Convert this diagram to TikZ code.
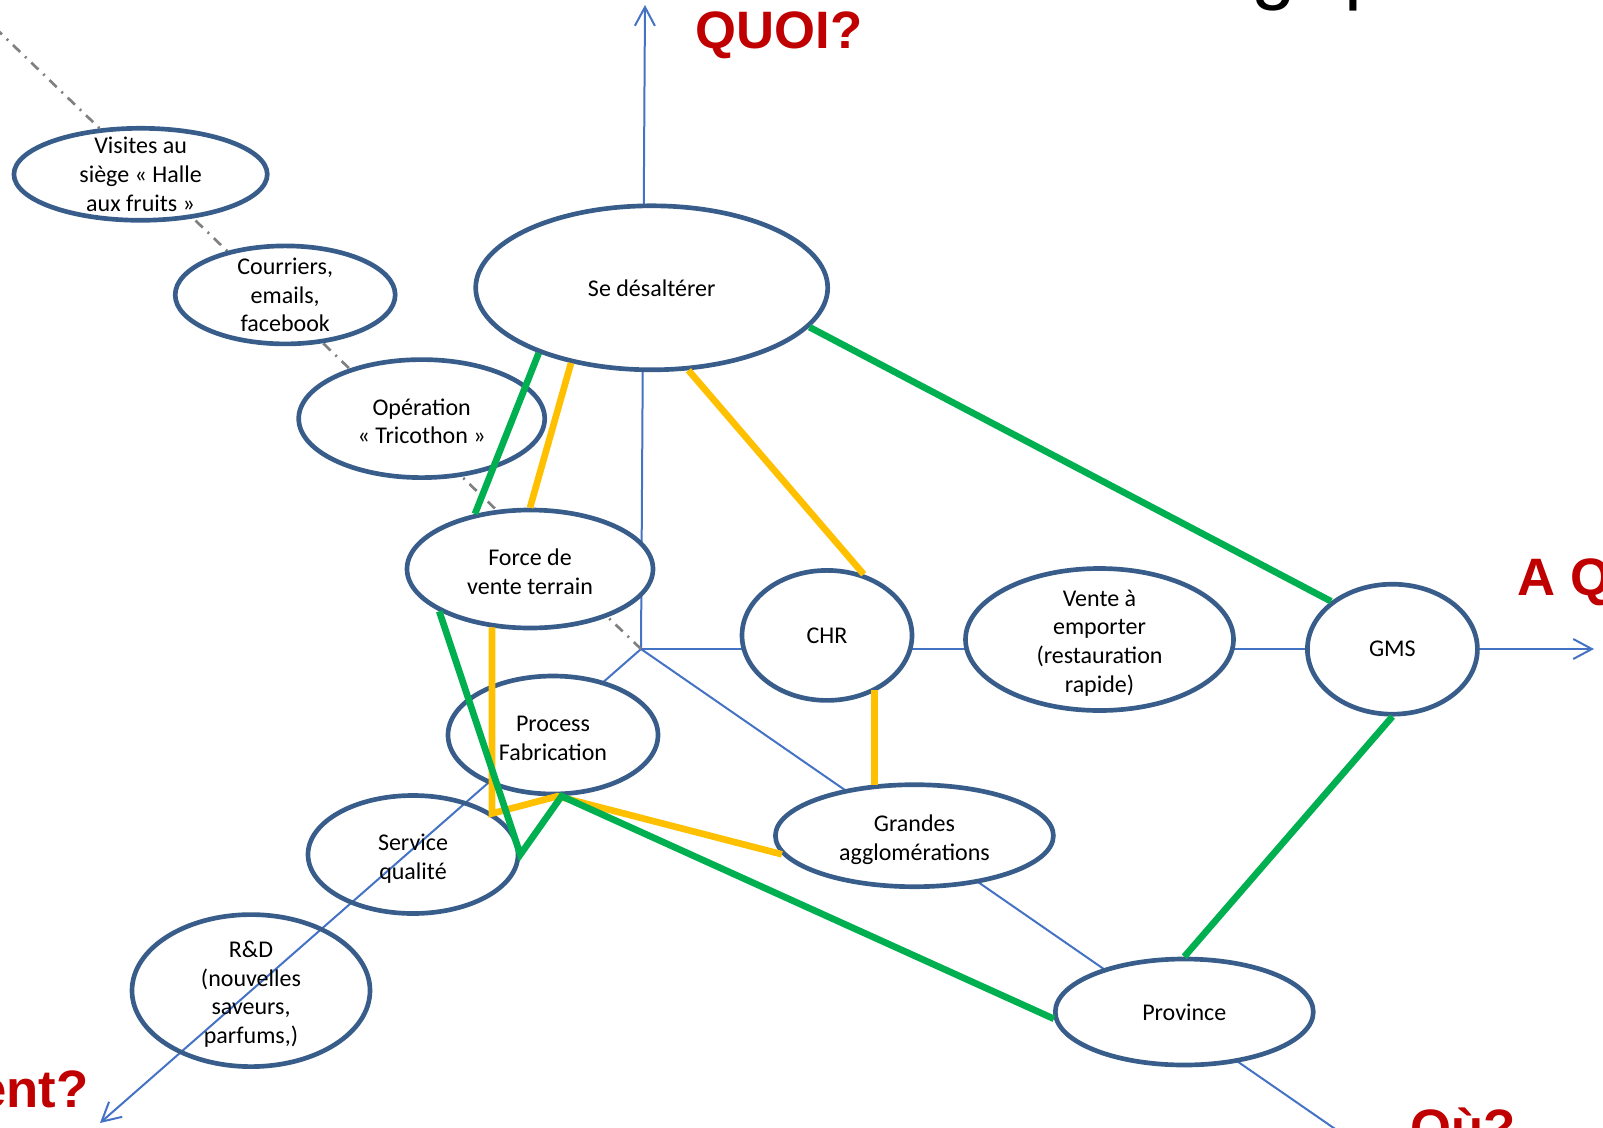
\documentclass[tikz,border=0pt]{standalone}
\usepackage{fontspec}
\setmainfont{Carlito}
\newfontfamily\sansarial{Liberation Sans}
\usetikzlibrary{shapes.geometric,arrows.meta}
\newcommand\ligne[1][16.5pt]{\rule{0pt}{#1}}

\tikzset{every picture/.style={line width=0.75pt}}
\tikzset{
  bulle/.style={ellipse, draw={rgb, 255:red, 56; green, 93; blue, 138 }, line width=3.5pt, fill=white, inner sep=-30pt, align=center, font=\fontsize{18}{21.5}\selectfont},
  axe/.style={draw={rgb, 255:red, 68; green, 114; blue, 196 }, line width=1.5pt},
  fleche/.style={axe, -{Straight Barb[length=14pt,width=15pt]}},
  vert/.style={draw={rgb, 255:red, 0; green, 176; blue, 80 }, line width=5pt},
  jaune/.style={draw={rgb, 255:red, 255; green, 192; blue, 0 }, line width=5pt},
  pointille/.style={draw={rgb, 255:red, 128; green, 128; blue, 128 }, line width=2pt, dash pattern=on 7.5pt off 5pt on 1.5pt off 5pt},
  question/.style={text={rgb, 255:red, 192; green, 0; blue, 0 }, font=\sansarial\bfseries\fontsize{39.5}{40}\selectfont, inner sep=0pt},
  titre/.style={font=\sansarial\fontsize{60}{60}\selectfont, inner sep=0pt}
}

\begin{document}
\begin{tikzpicture}[x=0.75pt,y=0.75pt,yscale=-1,xscale=1]
\useasboundingbox (0,0) rectangle (1603,1128);
\clip (0,0) rectangle (1603,1128);

%Axes
\coordinate (O) at (641,649);
\coordinate (quoi) at (645,5);
\coordinate (aqui) at (1594,649);
\coordinate (comment) at (100,1123);
\coordinate (ou) at (1380,1160);
\coordinate (hautgauche) at (-12,21);
\draw[fleche] (O) -- (quoi);
\draw[fleche] (O) -- (aqui);
\draw[fleche] (O) -- (comment);
\draw[axe] (O) -- (ou);
\draw[pointille] (O) -- (hautgauche);

%Shape: Ellipse
\node[bulle, minimum width=190pt, minimum height=69pt] (visites) at (140.6,174.3) {Visites au\\siège « Halle\\aux fruits »};
\node[bulle, minimum width=165pt, minimum height=73.5pt] (courriers) at (285.2,294.9) {Courriers,\\emails,\\facebook};
\node[bulle, minimum width=184.5pt, minimum height=88.5pt] (operation) at (421.7,418.6) {\ligne Opération\\« Tricothon »};
\node[bulle, minimum width=264pt, minimum height=123pt] (desalterer) at (651.7,287.8) {Se désaltérer};
\node[bulle, minimum width=184.5pt, minimum height=88.5pt] (force) at (530,569) {\ligne Force de\\vente terrain};
\node[bulle, minimum width=127.5pt, minimum height=97.5pt] (chr) at (827,635.4) {CHR};
\node[bulle, minimum width=201pt, minimum height=106.5pt] (vente) at (1099.5,639.5) {\ligne[17.5pt]Vente à\\emporter\\(restauration\\rapide)};
\node[bulle, minimum width=127.5pt, minimum height=97.5pt] (gms) at (1392.4,649.2) {GMS};
\node[bulle, minimum width=157.5pt, minimum height=88.5pt] (process) at (553,735) {\ligne Process\\Fabrication};
\node[bulle, fill=none, minimum width=157.5pt, minimum height=88.5pt] (service) at (413,854.5) {\ligne[18.5pt]Service\\qualité};
\node[bulle, fill=none, minimum width=178.5pt, minimum height=114pt] (rd) at (251,990.6) {\ligne[17.5pt]R\&D\\(nouvelles\\saveurs,\\parfums,)};
\node[bulle, minimum width=208.5pt, minimum height=76.5pt] (grandes) at (914.4,835.7) {\ligne[18.5pt]Grandes\\agglomérations};
\node[bulle, minimum width=193.5pt, minimum height=79.5pt] (province) at (1184.3,1012) {Province};

%Straight Lines
\draw[jaune] (desalterer.223) -- (force.north);
\draw[jaune] (desalterer.-66) -- (chr.59);
\draw[jaune] (chr.-47 -| grandes.128) -- (grandes.128);
\draw[jaune] (force.237) -- ++(0,186) -- (process.-86) -- (grandes.188);
\draw[vert] (desalterer.210) -- (force.135);
\draw[vert] (desalterer.-14) -- (gms.142);
\draw[vert] (gms.south) -- (province.north);
\draw[vert] (force.205) -- (service.east) -- (process.-82) -- (province.183);

% Text Node
\node[question, anchor=base west] (quoiT) at (695,48) {QUOI?};
\node[question, anchor=base west] (aquiT) at (1517,595) {A Q};
\node[question, anchor=base east] (commentT) at (89,1107) {ent?};
\node[question, anchor=base west] (ouT) at (1410,1146) {Où?};
\node[titre, anchor=base west] (titreG) at (1251,-6) {g};
\node[titre, anchor=base west] (titreP) at (1344,-6) {p};
\end{tikzpicture}
\end{document}
